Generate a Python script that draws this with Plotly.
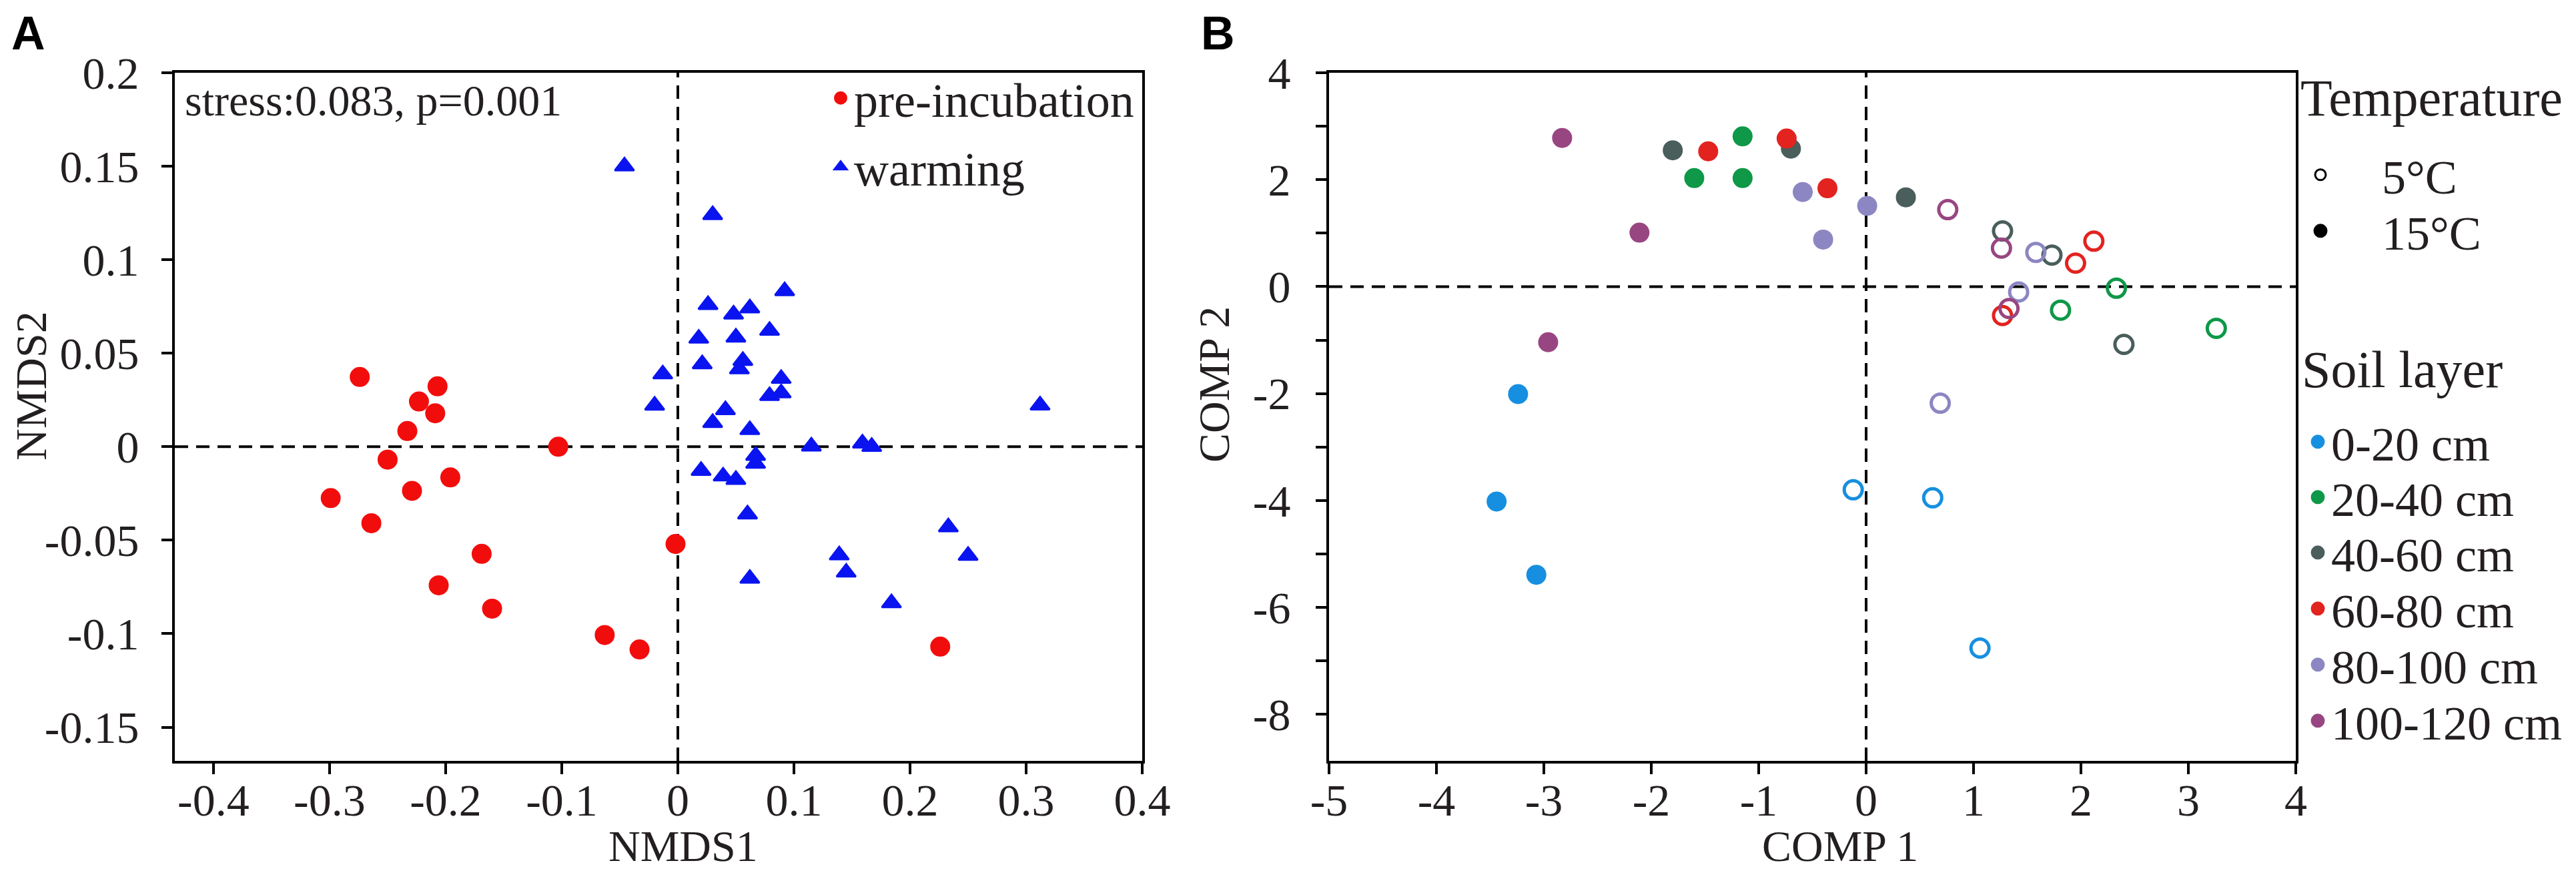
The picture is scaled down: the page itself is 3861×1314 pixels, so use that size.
import plotly.graph_objects as go

# ---------------- Panel A : NMDS ----------------
pre_nmds1 = [-0.274, -0.207, -0.223, -0.209, -0.233, -0.103, -0.250, -0.196, -0.229,
             -0.299, -0.264, -0.002, -0.169, -0.206, -0.160, -0.063, -0.033, 0.226]
pre_nmds2 = [0.0373, 0.0323, 0.0242, 0.0179, 0.0084, 0.0000, -0.0069, -0.0164, -0.0236,
             -0.0275, -0.0409, -0.0520, -0.0573, -0.0741, -0.0866, -0.1007, -0.1084, -0.1069]

warm_nmds1 = [-0.046, 0.030, 0.092, 0.026, 0.062, 0.048, 0.079, 0.018, 0.050, 0.021,
              0.056, 0.053, -0.013, 0.089, 0.089, 0.079, -0.020, 0.312, 0.041, 0.030,
              0.062, 0.115, 0.159, 0.167, 0.067, 0.067, 0.020, 0.039, 0.050, 0.060,
              0.233, 0.139, 0.250, 0.145, 0.062, 0.184]
warm_nmds2 = [0.150, 0.124, 0.0833, 0.0759, 0.0741, 0.0708, 0.0621, 0.0579, 0.0585, 0.0442,
              0.0460, 0.0415, 0.0388, 0.0364, 0.0287, 0.0272, 0.0221, 0.0222, 0.0197, 0.0128,
              0.0090, 0.0002, 0.0018, 0.0000, -0.0048, -0.0090, -0.0128, -0.0158, -0.0176, -0.0361,
              -0.0430, -0.0580, -0.0582, -0.0672, -0.0705, -0.0836]

a_xticks = [-0.4, -0.3, -0.2, -0.1, 0, 0.1, 0.2, 0.3, 0.4]
a_xlabels = ["-0.4", "-0.3", "-0.2", "-0.1", "0", "0.1", "0.2", "0.3", "0.4"]
a_yticks = [-0.15, -0.1, -0.05, 0, 0.05, 0.1, 0.15, 0.2]
a_ylabels = ["-0.15", "-0.1", "-0.05", "0", "0.05", "0.1", "0.15", "0.2"]
a_stats = "stress:0.083, p=0.001"
a_titles = ["NMDS1", "NMDS2"]

# ---------------- Panel B : COMP ----------------
layers = ["0-20 cm", "20-40 cm", "40-60 cm", "60-80 cm", "80-100 cm", "100-120 cm"]
layer_colors = ["#168fe0", "#0e9848", "#4a5e5c", "#e2231f", "#8c86c2", "#984682"]

comp1_5C = [[-0.12, 0.62, 1.06], [2.33, 1.81, 3.26], [1.27, 1.73, 2.40],
            [2.12, 1.95, 1.27], [1.58, 1.42, 0.69], [0.76, 1.26, 1.33]]
comp2_5C = [[-3.80, -3.95, -6.76], [-0.03, -0.44, -0.78], [1.04, 0.59, -1.08],
            [0.85, 0.44, -0.54], [0.64, -0.10, -2.18], [1.44, 0.72, -0.41]]
comp1_15C = [[-3.24, -3.44, -3.07], [-1.15, -1.60, -1.15], [-1.80, -0.70, 0.37],
             [-1.47, -0.74, -0.36], [-0.59, 0.01, -0.40], [-2.83, -2.11, -2.96]]
comp2_15C = [[-2.01, -4.02, -5.39], [2.81, 2.03, 2.03], [2.55, 2.58, 1.67],
             [2.53, 2.77, 1.84], [1.77, 1.51, 0.88], [2.78, 1.01, -1.04]]

temps = ["5°C", "15°C"]
b_xticks = [-5, -4, -3, -2, -1, 0, 1, 2, 3, 4]
b_xlabels = ["-5", "-4", "-3", "-2", "-1", "0", "1", "2", "3", "4"]
b_yticks = [-8, -7, -6, -5, -4, -3, -2, -1, 0, 1, 2, 3, 4]
b_ylabels = ["-8", "", "-6", "", "-4", "", "-2", "", "0", "", "2", "", "4"]
b_titles = ["COMP 1", "COMP 2"]

# ---------------- geometry helpers (page body has an 8px margin) ----------------
W, H, OFF = 3861, 1314, 8
FW, FH = W - 2 * OFF, H - 2 * OFF


def px(x):
    return (x - OFF) / FW


def py(y):
    return 1 - (y - OFF) / FH


SERIF = "Liberation Serif, Times New Roman, serif"
SANS = "Liberation Sans, Arial, sans-serif"
TXT = "#231f20"

fig = go.Figure()

fig.add_trace(go.Scatter(x=pre_nmds1, y=pre_nmds2, mode="markers", name="pre-incubation",
                         marker=dict(symbol="circle", size=26, color="#f20d0d",
                                     line=dict(width=4, color="#f20d0d")),
                         xaxis="x", yaxis="y", legend="legend"))
fig.add_trace(go.Scatter(x=warm_nmds1, y=warm_nmds2, mode="markers", name="warming",
                         marker=dict(symbol="triangle-up", size=25, color="#0a14f0",
                                     line=dict(width=3, color="#0a14f0")),
                         xaxis="x", yaxis="y", legend="legend2"))

for i, lay in enumerate(layers):
    fig.add_trace(go.Scatter(x=comp1_15C[i], y=comp2_15C[i], mode="markers", name=lay + " " + temps[1],
                             marker=dict(symbol="circle", size=30, color=layer_colors[i], line=dict(width=0)),
                             xaxis="x2", yaxis="y2", showlegend=False))
    fig.add_trace(go.Scatter(x=comp1_5C[i], y=comp2_5C[i], mode="markers", name=lay + " " + temps[0],
                             marker=dict(symbol="circle-open", size=27, color=layer_colors[i],
                                         line=dict(width=5, color=layer_colors[i])),
                             xaxis="x2", yaxis="y2", showlegend=False))

# legend keys for panel B
fig.add_trace(go.Scatter(x=[None], y=[None], mode="markers", name="\u00a0" * 4 + temps[0],
                         marker=dict(symbol="circle-open", size=16, color="black",
                                     line=dict(width=3, color="black")),
                         xaxis="x2", yaxis="y2", legend="legend3"))
fig.add_trace(go.Scatter(x=[None], y=[None], mode="markers", name="\u00a0" * 4 + temps[1],
                         marker=dict(symbol="circle", size=16, color="black", line=dict(width=5, color="black")),
                         xaxis="x2", yaxis="y2", legend="legend4"))
for i, lay in enumerate(layers):
    fig.add_trace(go.Scatter(x=[None], y=[None], mode="markers", name=lay,
                             marker=dict(symbol="circle", size=16, color=layer_colors[i],
                                         line=dict(width=5, color=layer_colors[i])),
                             xaxis="x2", yaxis="y2", legend="legend%d" % (5 + i)))

TICKFONT = dict(family=SERIF, size=68, color=TXT)
TITLEFONT = dict(family=SERIF, size=66, color=TXT)
axis_common = dict(ticks="outside", ticklen=16, tickwidth=4, tickcolor="black",
                   showline=True, linewidth=4, linecolor="black", mirror=True,
                   showgrid=False, zeroline=False, tickmode="array", automargin=False,
                   tickfont=TICKFONT)

ydom = [py(1140), py(109)]
dash = dict(color="black", width=4, dash="20px,12px")


def ann(text, x, y, font, xanchor="center", yanchor="middle", angle=0):
    return dict(text=text, x=px(x), y=py(y), xref="paper", yref="paper", showarrow=False,
                xanchor=xanchor, yanchor=yanchor, textangle=angle, font=font)


fig.update_layout(
    template="none",
    width=FW, height=FH,
    margin=dict(l=0, r=0, t=0, b=0, pad=0, autoexpand=False),
    paper_bgcolor="white", plot_bgcolor="white",
    font=dict(family=SERIF, size=68, color=TXT),
    xaxis=dict(domain=[px(262), px(1712)], range=[-0.4333, 0.4], tickvals=a_xticks, ticktext=a_xlabels,
               anchor="y", ticklabelstandoff=-20, **axis_common),
    yaxis=dict(domain=ydom, range=[-0.168, 0.2], tickvals=a_yticks, ticktext=a_ylabels,
               anchor="x", ticklabelstandoff=20, **axis_common),
    xaxis2=dict(domain=[px(1992), px(3441)], range=[-5, 4], tickvals=b_xticks, ticktext=b_xlabels,
                anchor="y2", ticklabelstandoff=-20, **axis_common),
    yaxis2=dict(domain=ydom, range=[-8.87, 4], tickvals=b_yticks, ticktext=b_ylabels,
                anchor="x2", ticklabelstandoff=24, **axis_common),
    shapes=[
        dict(type="line", xref="x", yref="y domain", x0=0, x1=0, y0=0, y1=1, layer="below", line=dash),
        dict(type="line", xref="x domain", yref="y", x0=0, x1=1, y0=0, y1=0, layer="below", line=dash),
        dict(type="line", xref="x2", yref="y2 domain", x0=0, x1=0, y0=0, y1=1, layer="below", line=dash),
        dict(type="line", xref="x2 domain", yref="y2", x0=0, x1=1, y0=0, y1=0, layer="below", line=dash),
    ],
    annotations=[
        ann("<b>A</b>", 42, 50, dict(family=SANS, size=70, color="black")),
        ann("<b>B</b>", 1825, 50, dict(family=SANS, size=70, color="black")),
        ann(a_stats, 275, 150, dict(family=SERIF, size=66, color=TXT), xanchor="left"),
        ann("Temperature", 3446, 147, dict(family=SERIF, size=78, color=TXT), xanchor="left"),
        ann("Soil layer", 3448, 553, dict(family=SERIF, size=78, color=TXT), xanchor="left"),
        # axis titles
        ann(a_titles[0], 1024, H - OFF, TITLEFONT, yanchor="bottom"),
        ann(a_titles[1], 46, 578, TITLEFONT, angle=-90),
        ann(b_titles[0], 2758, H - OFF, TITLEFONT, yanchor="bottom"),
        ann(b_titles[1], 1819, 576, TITLEFONT, angle=-90),
    ],
)

leg_common = dict(xanchor="left", yanchor="middle", bgcolor="rgba(0,0,0,0)", borderwidth=0,
                  itemsizing="trace", font=dict(family=SERIF, size=72, color=TXT))
legend_pos = {
    "legend": (1240, 147), "legend2": (1240, 250),
    "legend3": (3458, 262), "legend4": (3458, 346),
}
soil_y = [662, 745, 828, 912, 996, 1080]
for i, yy in enumerate(soil_y):
    legend_pos["legend%d" % (5 + i)] = (3454, yy)
for key, (lx, ly) in legend_pos.items():
    fig.update_layout({key: dict(x=px(lx), y=py(ly), **leg_common)})

fig.write_html("out.html")
